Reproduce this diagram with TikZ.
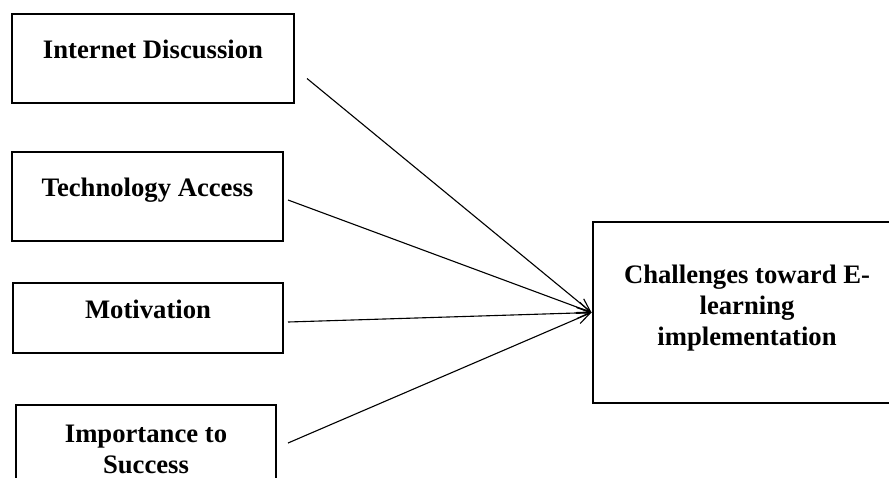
\documentclass[tikz,border=0pt]{standalone}
\usepackage{fontspec}
\setmainfont{Liberation Serif}
\usetikzlibrary{arrows.meta, calc}
\tikzstyle{factor} = [rectangle, draw=black, line width=0.9pt, text centered, font=\bfseries\large, text height=1ex, text depth=1ex]
\tikzstyle{outcome} = [rectangle, draw=black, line width=0.9pt, align=center, font=\bfseries\large]
\tikzstyle{arrow} = [line width=0.5pt, -{Straight Barb[length=6pt,width=5pt]}]

\begin{document}
\begin{tikzpicture}[x=0.45pt, y=-0.45pt]
\useasboundingbox (0,0) rectangle (889,477);
\clip (0,0) rectangle (889,477);

\node (idisc) [factor, minimum width=126.9pt, minimum height=40pt] at (153,58.5) {Internet Discussion};
\node (tech) [factor, minimum width=122pt, minimum height=40pt] at (147.5,196.5) {Technology Access};
\node (motiv) [factor, minimum width=121.5pt, minimum height=31.5pt] at (148,318) {Motivation};
\node (impo) [outcome, minimum width=117pt, minimum height=40pt] at (146,449) {Importance to\\Success};

\node (chal) [outcome, minimum width=139pt, minimum height=81.5pt, text depth=6.6pt] at (747,312.5) {Challenges toward E-\\learning\\implementation};

\draw [arrow] ($(idisc.east)+(12,20)$) -- (chal.west);
\draw [arrow] ($(tech.east)+(4,3.5)$) -- (chal.west);
\draw [arrow] ($(motiv.east)+(4,4)$) -- (chal.west);
\draw [arrow] ($(impo.east)+(11,-6)$) -- (chal.west);

\end{tikzpicture}
\end{document}
